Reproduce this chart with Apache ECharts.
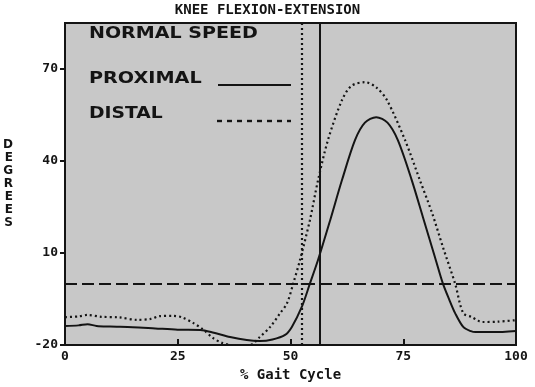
<!DOCTYPE html>
<html>
<head>
<meta charset="utf-8">
<script src="https://cdn.jsdelivr.net/npm/echarts@6.0.0/dist/echarts.min.js"></script>
<style>
html,body{margin:0;padding:0;background:#fff;}
#chart{width:535px;height:387px;}
</style>
</head>
<body>
<div id="chart"></div>
<script>
// ---- data ----
var proximalPct = [0,3,5,7,10,15,20,25,30,33,36.6,40.3,43.2,46,48.8,50.3,52.5,54.3,56.1,58.8,61.4,64.3,66.5,69,71.5,73.8,76.9,79.4,82,83.8,85.2,86.5,88.3,90,91,95,100];
var proximalDeg = [-13.8,-13.6,-13.2,-13.8,-14.0,-14.2,-14.6,-15.0,-15.1,-16.0,-17.4,-18.4,-18.7,-18.2,-16.7,-14.1,-7.6,0,7.7,20.7,33.7,46.8,52.5,54.3,52.5,46.8,33.7,21.5,8.8,0,-5.2,-9.6,-14.1,-15.5,-15.8,-15.8,-15.4];
var distalPct = [0,3,5,8,12,16,19,21,24,26,28.4,30.5,32.8,34.8,37,41,43.2,45.5,47.7,49.2,50.6,52.1,54.3,56.1,58.3,61.4,63.5,66.5,69,71.4,75.4,78.7,81.4,83.8,86.5,88.3,90.2,91.5,92.5,96,100];
var distalDeg = [-10.9,-10.7,-10.2,-10.8,-11.0,-11.8,-11.5,-10.6,-10.5,-11.0,-12.8,-14.8,-17.7,-19.3,-20,-20,-17.4,-14.1,-9.6,-6.5,0,7.7,20.7,33.7,46.8,59.8,64.5,65.7,64,59.8,46.8,33.7,23,11.9,0,-9.6,-10.9,-12,-12.5,-12.4,-11.9];
var xTicks = [0,25,50,75,100];
var yTicks = [-20,10,40,70];
var proximalMarkPct = 56.5;   // solid vertical line
var distalMarkPct = 52.5;     // dotted vertical line
var zeroLineDeg = 0;          // dashed horizontal line
var titleText = 'KNEE FLEXION-EXTENSION';
var xName = '% Gait Cycle';
var yName = 'DEGREES';
var legendTitle = 'NORMAL SPEED';
var seriesNames = ['PROXIMAL','DISTAL'];

function pairs(xs, ys){ return xs.map(function(x,i){ return [x, ys[i]]; }); }

var INK = '#141414';
var mono = '"DejaVu Sans Mono", monospace';
var sans = '"DejaVu Sans", sans-serif';

var chart = echarts.init(document.getElementById('chart'), null, {renderer:'canvas'});
chart.setOption({
  backgroundColor: '#ffffff',
  animation: false,
  title: {
    text: titleText, left: 'center', top: 3, padding: 0,
    textStyle: {fontFamily: mono, fontWeight: 'bold', fontSize: 14, color: INK}
  },
  grid: {
    left: 65, right: 19, top: 23, bottom: 42,
    show: true, backgroundColor: '#c8c8c8', borderColor: INK, borderWidth: 2
  },
  xAxis: {
    type: 'value', min: 0, max: 100, interval: 25,
    name: xName, nameLocation: 'middle', nameGap: 22,
    nameTextStyle: {fontFamily: mono, fontWeight: 'bold', fontSize: 14, color: INK},
    axisLine: {show: true, onZero: false, lineStyle: {color: INK, width: 2}},
    axisTick: {show: true, inside: true, length: 6, lineStyle: {color: INK, width: 2}, customValues: xTicks},
    axisLabel: {fontFamily: mono, fontWeight: 'bold', fontSize: 13, color: INK, margin: 5, customValues: xTicks},
    splitLine: {show: false}
  },
  yAxis: {
    type: 'value', min: -20, max: 85,
    name: yName.split('').join('\n'), nameLocation: 'middle', nameGap: 52, nameRotate: 0,
    nameTextStyle: {fontFamily: sans, fontWeight: 'bold', fontSize: 12, color: INK, lineHeight: 13},
    axisLine: {show: true, onZero: false, lineStyle: {color: INK, width: 2}},
    axisTick: {show: true, inside: false, length: 5, lineStyle: {color: INK, width: 2}, customValues: yTicks},
    axisLabel: {fontFamily: mono, fontWeight: 'bold', fontSize: 13, color: INK, margin: 7, customValues: yTicks},
    splitLine: {show: false}
  },
  series: [
    {
      name: seriesNames[0], type: 'line', data: pairs(proximalPct, proximalDeg),
      symbol: 'none', smooth: 0.3, clip: true,
      lineStyle: {color: INK, width: 2},
      markLine: {
        silent: true, symbol: 'none', label: {show: false},
        data: [
          {xAxis: proximalMarkPct, lineStyle: {color: INK, width: 2, type: 'solid'}},
          {yAxis: zeroLineDeg, lineStyle: {color: INK, width: 2, type: [12,5]}}
        ]
      }
    },
    {
      name: seriesNames[1], type: 'line', data: pairs(distalPct, distalDeg),
      symbol: 'none', smooth: 0.3, clip: true,
      lineStyle: {color: INK, width: 2.2, type: [2,3]},
      markLine: {
        silent: true, symbol: 'none', label: {show: false},
        data: [
          {xAxis: distalMarkPct, lineStyle: {color: INK, width: 2.2, type: [2,3]}}
        ]
      }
    }
  ],
  graphic: [
    {type:'text', x: 89, y: 34, scaleX: 1.19, style: {text: legendTitle, font: 'bold 16px ' + sans, fill: INK, verticalAlign: 'middle'}},
    {type:'text', x: 89, y: 79, scaleX: 1.2, style: {text: seriesNames[0], font: 'bold 16px ' + sans, fill: INK, verticalAlign: 'middle'}},
    {type:'text', x: 89, y: 114, scaleX: 1.17, style: {text: seriesNames[1], font: 'bold 16px ' + sans, fill: INK, verticalAlign: 'middle'}},
    {type:'line', shape: {x1: 218, y1: 85, x2: 291, y2: 85}, style: {stroke: INK, lineWidth: 2}},
    {type:'line', shape: {x1: 217, y1: 121, x2: 291, y2: 121}, style: {stroke: INK, lineWidth: 2.4, lineDash: [5,5]}}
  ]
});
</script>
</body>
</html>
